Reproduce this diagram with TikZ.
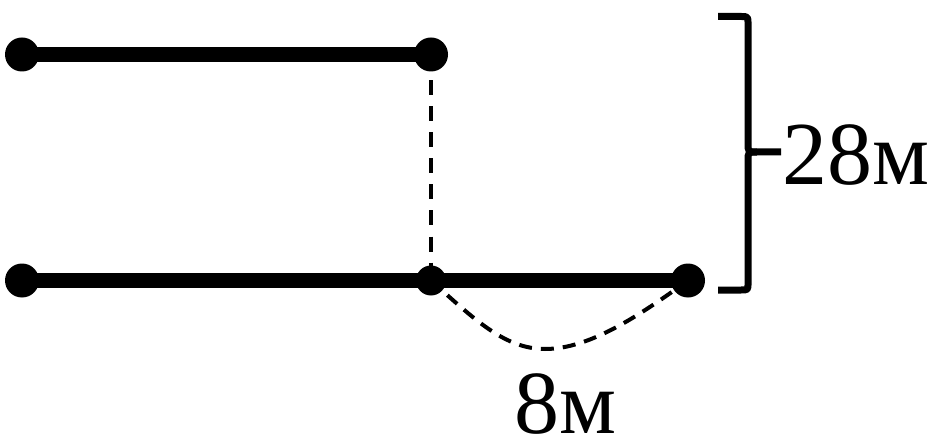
\documentclass[tikz,border=0pt]{standalone}
\usepackage{fontspec}
\setmainfont{Liberation Serif}
\begin{document}
\begin{tikzpicture}[x=1pt,y=-1pt,
  dot/.style={circle,fill=black,inner sep=0pt,minimum size=34pt},
  thick line/.style={line width=15pt},
  dash line/.style={line width=4pt,dash pattern=on 15pt off 11pt},
  brace line/.style={line width=7pt,line join=round},
  lbl/.style={inner sep=0pt,text depth=0pt,font=\fontsize{90}{90}\selectfont}]
\useasboundingbox (0,0) rectangle (941,446);
\coordinate (tl) at (22,54.5);
\coordinate (tr) at (431,54.5);
\coordinate (bl) at (22,280.5);
\coordinate (bm) at (431,280.5);
\coordinate (br) at (688,280.5);
\draw[dash line] (tr) -- (bm);
\draw[dash line,dash pattern=on 13pt off 9pt] (bm) .. controls (475,320) and (505,349) .. (545,349) .. controls (590,349) and (640,315) .. (br);
\draw[thick line] (tl) -- (tr);
\draw[thick line] (bl) -- (br);
\node[dot] (ntl) at (tl) {};
\node[dot] (ntr) at (tr) {};
\node[dot] (nbl) at (bl) {};
\node[dot,minimum size=30pt] (nbm) at (bm) {};
\node[dot] (nbr) at (br) {};
\draw[brace line] (718,16.5) -- (741,16.5) .. controls (748,16.5) .. (748,24) -- (748,143)
  .. controls (748,152) .. (757,152) -- (781,152);
\draw[brace line] (757,152) .. controls (748,152) .. (748,161) -- (748,283)
  .. controls (748,290) .. (741,290) -- (718,290);
\node[lbl,anchor=base west] (t28) at (782,185) {28м};
\node[lbl,anchor=base west] (t8) at (514,433) {8м};
\end{tikzpicture}
\end{document}
